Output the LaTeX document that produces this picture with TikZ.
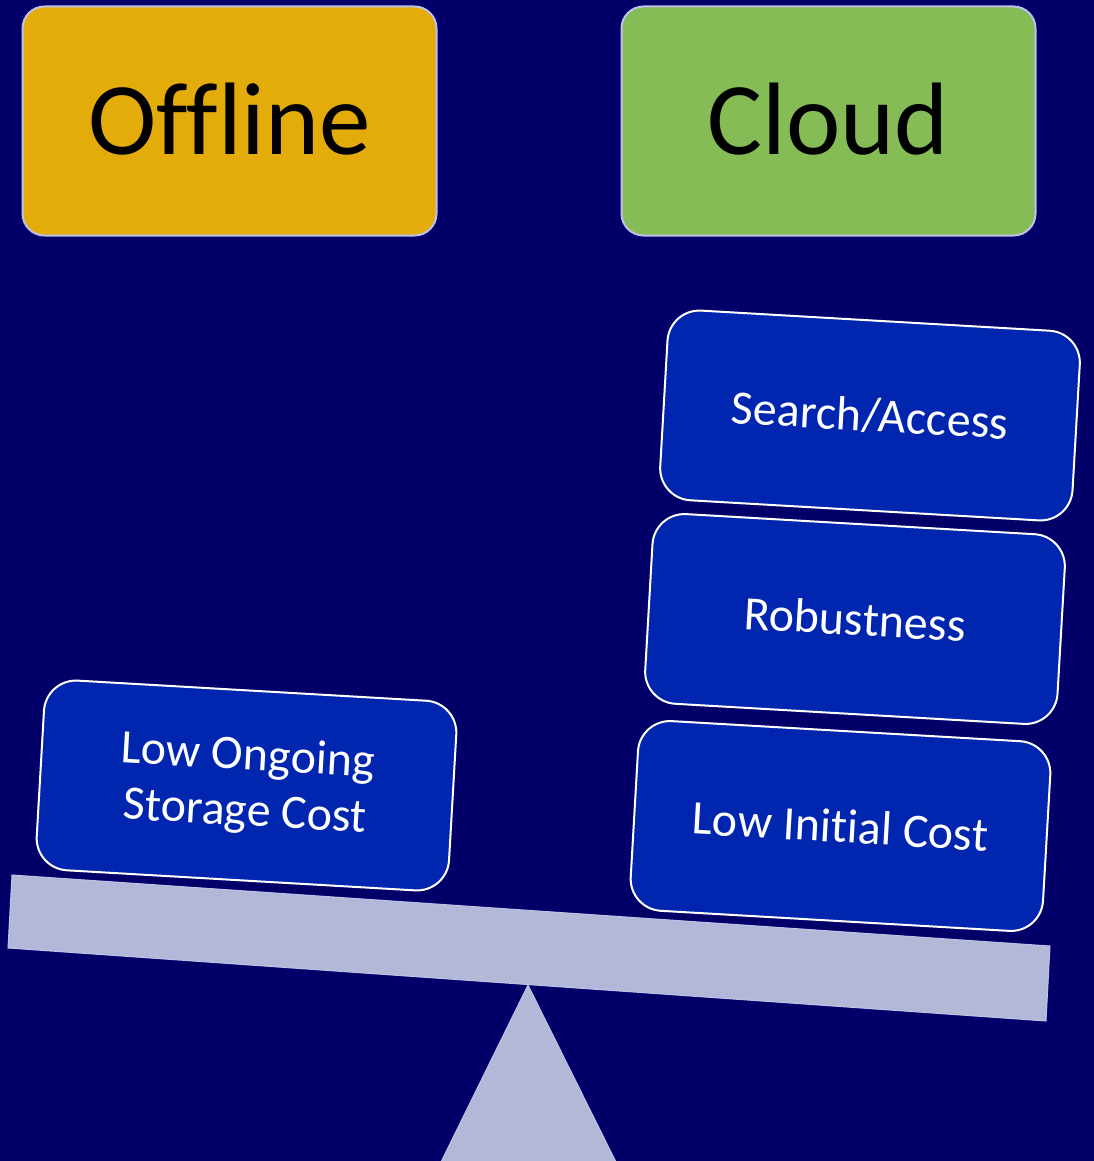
\documentclass[tikz,border=0pt]{standalone}
\usepackage{fontspec}
\setmainfont{Carlito}[Ligatures=NoCommon]
\definecolor{bg}{RGB}{2,0,104}
\definecolor{gold}{RGB}{228,172,10}
\definecolor{leaf}{RGB}{134,188,86}
\definecolor{royal}{RGB}{0,38,176}
\definecolor{lav}{RGB}{180,184,216}
\definecolor{lavline}{RGB}{190,194,232}
\begin{document}
\begin{tikzpicture}[x=1pt,y=-1pt,
  topbox/.style={draw=lavline, line width=2pt, rounded corners=22pt, minimum width=414pt, minimum height=229pt, inner sep=0pt, font=\fontsize{103}{120}\selectfont, text=black},
  bluebox/.style={draw=white, line width=2pt, fill=royal, rounded corners=32pt, minimum width=413pt, minimum height=190pt, inner sep=0pt, rotate=-3.3, text=white, align=center, font=\fontsize{48}{56}\selectfont},
  scalepart/.style={fill=lav, draw=lavline, line width=1pt}]
\fill[bg] (0,0) rectangle (1094,1161);
\useasboundingbox (0,0) rectangle (1094,1161);
\node[topbox, fill=gold] (offline) at (229.5,121) {\raisebox{5pt}{Offline}};
\node[topbox, fill=leaf] (cloud) at (828.5,121) {\raisebox{5pt}{Cloud}};
\path[scalepart] (12,875) -- (1050,946) -- (1046,1021) -- (8,948) -- cycle;
\path[scalepart] (528,985) -- (616,1162) -- (441,1162) -- cycle;
\node[bluebox] (search) at (870,415.5) {Search/Access};
\node[bluebox] (robust) at (855,619) {Robustness};
\node[bluebox] (initial) at (840.5,826) {Low Initial Cost};
\node[bluebox] (ongoing) at (246.5,785.5) {Low Ongoing\\Storage Cost};
\end{tikzpicture}
\end{document}
